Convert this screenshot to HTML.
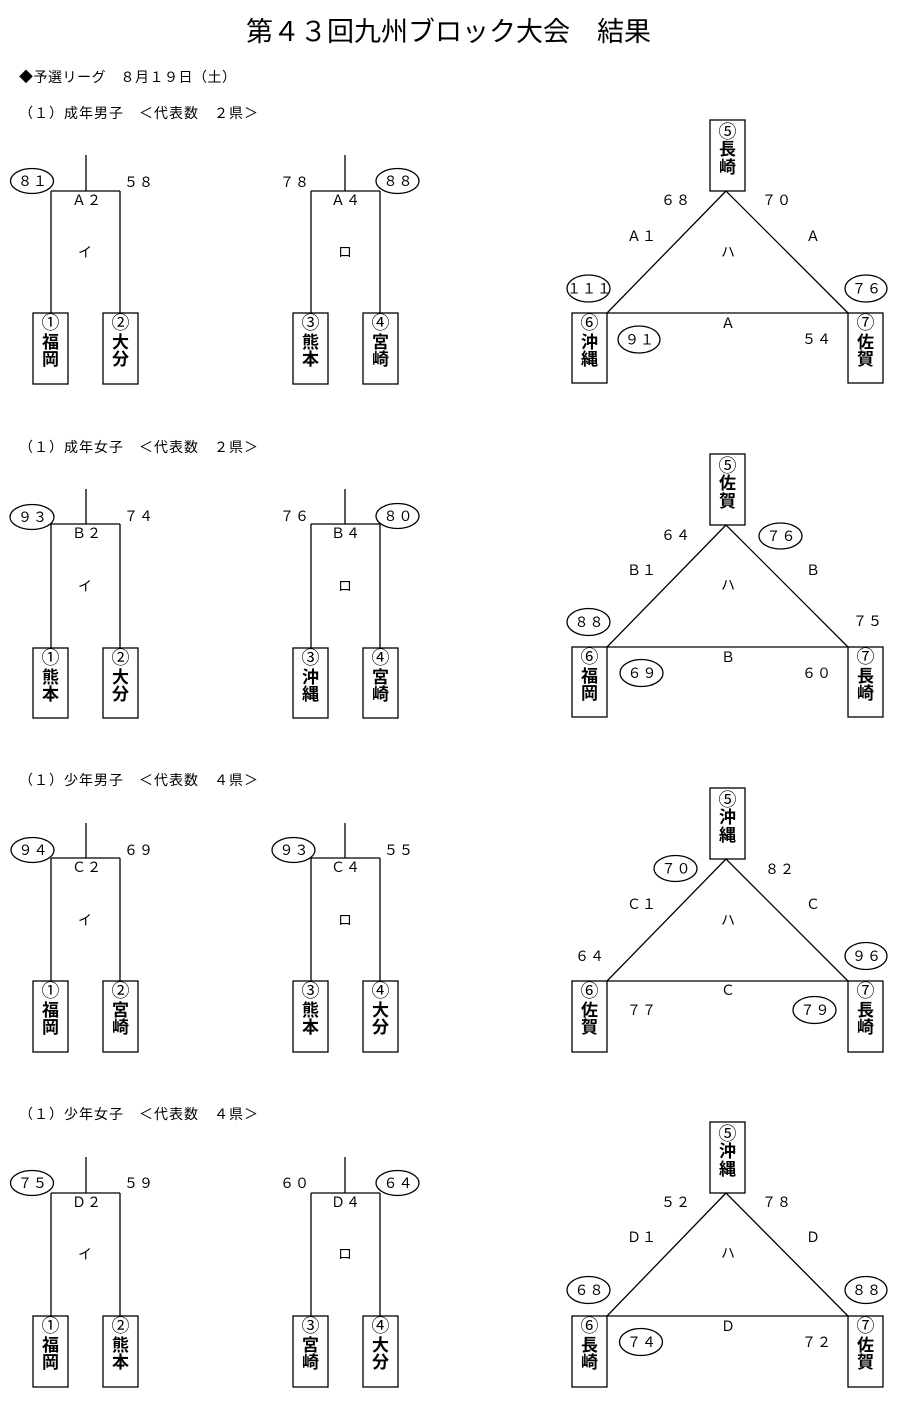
<!DOCTYPE html>
<html lang="ja">
<head>
<meta charset="utf-8">
<style>
  html,body{margin:0;padding:0;background:#fff;}
  svg{display:block;}
  text{font-family:"Liberation Sans","Noto Sans CJK JP",sans-serif;fill:#000;}
  .n{font-size:14px;letter-spacing:1px;text-anchor:middle;}
  .h{font-size:14px;letter-spacing:1px;}
  .c{font-size:14px;text-anchor:middle;}
  .k{font-size:17px;font-weight:700;text-anchor:middle;}
  .ln{stroke:#000;stroke-width:1.3;fill:none;}
  .el{stroke:#000;stroke-width:1.3;fill:#fff;}
  .cn{font-size:18px;text-anchor:middle;}
</style>
</head>
<body>
<svg width="900" height="1406" viewBox="0 0 900 1406" xmlns="http://www.w3.org/2000/svg">
  <text x="246" y="41" style="font-size:27px;">第４３回九州ブロック大会　結果</text>
  <text x="19" y="82" style="font-size:14px;letter-spacing:0.5px;">◆予選リーグ　８月１９日（土）</text>

  <!-- ========== Section 1 ========== -->
  <g transform="translate(0,0)">
    <text class="h" x="19" y="118">（１）成年男子　＜代表数　２県＞</text>
    <path class="ln" d="M86 155 V191 M51 191 H120 M51 191 V313 M120 191 V313"/>
    <rect class="ln" x="33" y="313" width="35" height="71"/>
    <rect class="ln" x="103" y="313" width="35" height="71"/>
    <ellipse class="el" cx="32" cy="181" rx="21.5" ry="12.5"/>
    <text class="n" x="33" y="186">８１</text>
    <text class="n" x="139" y="187">５８</text>
    <text class="n" x="87" y="205">Ａ２</text>
    <text class="c" x="85" y="257">イ</text>
    <text class="cn" x="50.5" y="329">①</text><text class="k" x="50.5" y="348">福</text><text class="k" x="50.5" y="365">岡</text>
    <text class="cn" x="120.5" y="329">②</text><text class="k" x="120.5" y="348">大</text><text class="k" x="120.5" y="365">分</text>
    <path class="ln" d="M345 155 V191 M311 191 H380 M311 191 V313 M380 191 V313"/>
    <rect class="ln" x="293" y="313" width="35" height="71"/>
    <rect class="ln" x="363" y="313" width="35" height="71"/>
    <text class="n" x="295" y="187">７８</text>
    <ellipse class="el" cx="397.5" cy="181" rx="21.5" ry="12.5"/>
    <text class="n" x="398.5" y="186">８８</text>
    <text class="n" x="346" y="205">Ａ４</text>
    <text class="c" x="345" y="257">ロ</text>
    <text class="cn" x="310.5" y="329">③</text><text class="k" x="310.5" y="348">熊</text><text class="k" x="310.5" y="365">本</text>
    <text class="cn" x="380.5" y="329">④</text><text class="k" x="380.5" y="348">宮</text><text class="k" x="380.5" y="365">崎</text>
    <path class="ln" d="M726 191 L607 313 H848 Z"/>
    <rect class="ln" x="710" y="120" width="35" height="71"/>
    <rect class="ln" x="572" y="313" width="35" height="70"/>
    <rect class="ln" x="848" y="313" width="35" height="70"/>
    <text class="cn" x="727.5" y="138">⑤</text><text class="k" x="727.5" y="155">長</text><text class="k" x="727.5" y="173">崎</text>
    <text class="cn" x="589.5" y="329">⑥</text><text class="k" x="589.5" y="348">沖</text><text class="k" x="589.5" y="365">縄</text>
    <text class="cn" x="865.5" y="329">⑦</text><text class="k" x="865.5" y="348">佐</text><text class="k" x="865.5" y="365">賀</text>
    <text class="n" x="676" y="205">６８</text>
    <text class="n" x="777" y="205">７０</text>
    <text class="n" x="642" y="241">Ａ１</text>
    <text class="c" x="813" y="241">Ａ</text>
    <text class="c" x="728" y="257">ハ</text>
    <ellipse class="el" cx="588.5" cy="288.5" rx="21.5" ry="13.5"/>
    <text class="n" x="589.5" y="293.5">１１１</text>
    <ellipse class="el" cx="866" cy="288.5" rx="21" ry="13.5"/>
    <text class="n" x="867" y="293.5">７６</text>
    <text class="c" x="728" y="328">Ａ</text>
    <ellipse class="el" cx="639" cy="339.5" rx="21" ry="13.5"/>
    <text class="n" x="640" y="344.5">９１</text>
    <text class="n" x="817" y="344">５４</text>
  </g>

  <!-- ========== Section 2 ========== -->
  <g transform="translate(0,334)">
    <text class="h" x="19" y="118">（１）成年女子　＜代表数　２県＞</text>
    <path class="ln" d="M86 155 V190 M51 190 H120 M51 190 V314 M120 190 V314"/>
    <rect class="ln" x="33" y="314" width="35" height="70"/>
    <rect class="ln" x="103" y="314" width="35" height="70"/>
    <ellipse class="el" cx="32" cy="183" rx="22" ry="12.5"/>
    <text class="n" x="33" y="188">９３</text>
    <text class="n" x="139" y="187">７４</text>
    <text class="n" x="87" y="204">Ｂ２</text>
    <text class="c" x="85" y="257">イ</text>
    <text class="cn" x="50.5" y="330">①</text><text class="k" x="50.5" y="349">熊</text><text class="k" x="50.5" y="366">本</text>
    <text class="cn" x="120.5" y="330">②</text><text class="k" x="120.5" y="349">大</text><text class="k" x="120.5" y="366">分</text>
    <path class="ln" d="M345 155 V190 M311 190 H380 M311 190 V314 M380 190 V314"/>
    <rect class="ln" x="293" y="314" width="35" height="70"/>
    <rect class="ln" x="363" y="314" width="35" height="70"/>
    <text class="n" x="295" y="187">７６</text>
    <ellipse class="el" cx="397.5" cy="182" rx="21.5" ry="12.5"/>
    <text class="n" x="398.5" y="187">８０</text>
    <text class="n" x="346" y="204">Ｂ４</text>
    <text class="c" x="345" y="257">ロ</text>
    <text class="cn" x="310.5" y="330">③</text><text class="k" x="310.5" y="349">沖</text><text class="k" x="310.5" y="366">縄</text>
    <text class="cn" x="380.5" y="330">④</text><text class="k" x="380.5" y="349">宮</text><text class="k" x="380.5" y="366">崎</text>
    <path class="ln" d="M726 191 L607 313 H848 Z"/>
    <rect class="ln" x="710" y="120" width="35" height="71"/>
    <rect class="ln" x="572" y="313" width="35" height="70"/>
    <rect class="ln" x="848" y="313" width="35" height="70"/>
    <text class="cn" x="727.5" y="138">⑤</text><text class="k" x="727.5" y="155">佐</text><text class="k" x="727.5" y="173">賀</text>
    <text class="cn" x="589.5" y="329">⑥</text><text class="k" x="589.5" y="348">福</text><text class="k" x="589.5" y="365">岡</text>
    <text class="cn" x="865.5" y="329">⑦</text><text class="k" x="865.5" y="348">長</text><text class="k" x="865.5" y="365">崎</text>
    <text class="n" x="676" y="206">６４</text>
    <ellipse class="el" cx="780.5" cy="202" rx="21.5" ry="13"/>
    <text class="n" x="781.5" y="207">７６</text>
    <text class="n" x="642" y="241">Ｂ１</text>
    <text class="c" x="813" y="241">Ｂ</text>
    <text class="c" x="728" y="256">ハ</text>
    <ellipse class="el" cx="588.5" cy="288" rx="21.5" ry="13.5"/>
    <text class="n" x="589.5" y="293">８８</text>
    <text class="n" x="868" y="292">７５</text>
    <text class="c" x="728" y="328">Ｂ</text>
    <ellipse class="el" cx="641.5" cy="339" rx="21.5" ry="13.5"/>
    <text class="n" x="642.5" y="344">６９</text>
    <text class="n" x="817" y="344">６０</text>
  </g>

  <!-- ========== Section 3 ========== -->
  <g transform="translate(0,668)">
    <text class="h" x="19" y="117">（１）少年男子　＜代表数　４県＞</text>
    <path class="ln" d="M86 155 V190 M51 190 H120 M51 190 V313 M120 190 V313"/>
    <rect class="ln" x="33" y="313" width="35" height="71"/>
    <rect class="ln" x="103" y="313" width="35" height="71"/>
    <ellipse class="el" cx="32.5" cy="182" rx="21.5" ry="12.5"/>
    <text class="n" x="33.5" y="187">９４</text>
    <text class="n" x="139" y="187">６９</text>
    <text class="n" x="87" y="204">Ｃ２</text>
    <text class="c" x="85" y="257">イ</text>
    <text class="cn" x="50.5" y="329">①</text><text class="k" x="50.5" y="348">福</text><text class="k" x="50.5" y="365">岡</text>
    <text class="cn" x="120.5" y="329">②</text><text class="k" x="120.5" y="348">宮</text><text class="k" x="120.5" y="365">崎</text>
    <path class="ln" d="M345 155 V190 M311 190 H380 M311 190 V313 M380 190 V313"/>
    <rect class="ln" x="293" y="313" width="35" height="71"/>
    <rect class="ln" x="363" y="313" width="35" height="71"/>
    <ellipse class="el" cx="293.5" cy="182" rx="21.5" ry="12.5"/>
    <text class="n" x="294.5" y="187">９３</text>
    <text class="n" x="399" y="187">５５</text>
    <text class="n" x="346" y="204">Ｃ４</text>
    <text class="c" x="345" y="257">ロ</text>
    <text class="cn" x="310.5" y="329">③</text><text class="k" x="310.5" y="348">熊</text><text class="k" x="310.5" y="365">本</text>
    <text class="cn" x="380.5" y="329">④</text><text class="k" x="380.5" y="348">大</text><text class="k" x="380.5" y="365">分</text>
    <path class="ln" d="M726 191 L607 313 H848 Z"/>
    <rect class="ln" x="710" y="120" width="35" height="71"/>
    <rect class="ln" x="572" y="313" width="35" height="71"/>
    <rect class="ln" x="848" y="313" width="35" height="71"/>
    <text class="cn" x="727.5" y="138">⑤</text><text class="k" x="727.5" y="155">沖</text><text class="k" x="727.5" y="173">縄</text>
    <text class="cn" x="589.5" y="329">⑥</text><text class="k" x="589.5" y="348">佐</text><text class="k" x="589.5" y="365">賀</text>
    <text class="cn" x="865.5" y="329">⑦</text><text class="k" x="865.5" y="348">長</text><text class="k" x="865.5" y="365">崎</text>
    <ellipse class="el" cx="675.5" cy="200.5" rx="21.5" ry="13"/>
    <text class="n" x="676.5" y="205.5">７０</text>
    <text class="n" x="780" y="206">８２</text>
    <text class="n" x="642" y="241">Ｃ１</text>
    <text class="c" x="813" y="241">Ｃ</text>
    <text class="c" x="728" y="257">ハ</text>
    <text class="n" x="590" y="293">６４</text>
    <ellipse class="el" cx="866" cy="288" rx="21" ry="13.5"/>
    <text class="n" x="867" y="293">９６</text>
    <text class="c" x="728" y="327">Ｃ</text>
    <text class="n" x="642" y="347">７７</text>
    <ellipse class="el" cx="814.5" cy="342" rx="21.5" ry="13.5"/>
    <text class="n" x="815.5" y="347">７９</text>
  </g>

  <!-- ========== Section 4 ========== -->
  <g transform="translate(0,1002)">
    <text class="h" x="19" y="117">（１）少年女子　＜代表数　４県＞</text>
    <path class="ln" d="M86 155 V191 M51 191 H120 M51 191 V314 M120 191 V314"/>
    <rect class="ln" x="33" y="314" width="35" height="71"/>
    <rect class="ln" x="103" y="314" width="35" height="71"/>
    <ellipse class="el" cx="32" cy="181" rx="21.5" ry="12.5"/>
    <text class="n" x="33" y="186">７５</text>
    <text class="n" x="139" y="186">５９</text>
    <text class="n" x="87" y="205">Ｄ２</text>
    <text class="c" x="85" y="257">イ</text>
    <text class="cn" x="50.5" y="330">①</text><text class="k" x="50.5" y="349">福</text><text class="k" x="50.5" y="366">岡</text>
    <text class="cn" x="120.5" y="330">②</text><text class="k" x="120.5" y="349">熊</text><text class="k" x="120.5" y="366">本</text>
    <path class="ln" d="M345 155 V191 M311 191 H380 M311 191 V314 M380 191 V314"/>
    <rect class="ln" x="293" y="314" width="35" height="71"/>
    <rect class="ln" x="363" y="314" width="35" height="71"/>
    <text class="n" x="295" y="186">６０</text>
    <ellipse class="el" cx="397.5" cy="181" rx="21.5" ry="12.5"/>
    <text class="n" x="398.5" y="186">６４</text>
    <text class="n" x="346" y="205">Ｄ４</text>
    <text class="c" x="345" y="257">ロ</text>
    <text class="cn" x="310.5" y="330">③</text><text class="k" x="310.5" y="349">宮</text><text class="k" x="310.5" y="366">崎</text>
    <text class="cn" x="380.5" y="330">④</text><text class="k" x="380.5" y="349">大</text><text class="k" x="380.5" y="366">分</text>
    <path class="ln" d="M726 191 L607 314 H848 Z"/>
    <rect class="ln" x="710" y="120" width="35" height="71"/>
    <rect class="ln" x="572" y="314" width="35" height="71"/>
    <rect class="ln" x="848" y="314" width="35" height="71"/>
    <text class="cn" x="727.5" y="138">⑤</text><text class="k" x="727.5" y="155">沖</text><text class="k" x="727.5" y="173">縄</text>
    <text class="cn" x="589.5" y="330">⑥</text><text class="k" x="589.5" y="349">長</text><text class="k" x="589.5" y="366">崎</text>
    <text class="cn" x="865.5" y="330">⑦</text><text class="k" x="865.5" y="349">佐</text><text class="k" x="865.5" y="366">賀</text>
    <text class="n" x="676" y="205">５２</text>
    <text class="n" x="777" y="205">７８</text>
    <text class="n" x="642" y="240">Ｄ１</text>
    <text class="c" x="813" y="240">Ｄ</text>
    <text class="c" x="728" y="256">ハ</text>
    <ellipse class="el" cx="588.5" cy="288" rx="21.5" ry="13.5"/>
    <text class="n" x="589.5" y="293">６８</text>
    <ellipse class="el" cx="866" cy="288" rx="21" ry="13.5"/>
    <text class="n" x="867" y="293">８８</text>
    <text class="c" x="728" y="329">Ｄ</text>
    <ellipse class="el" cx="641" cy="340" rx="21.5" ry="13.5"/>
    <text class="n" x="642" y="345">７４</text>
    <text class="n" x="817" y="345">７２</text>
  </g>
</svg>
</body>
</html>
